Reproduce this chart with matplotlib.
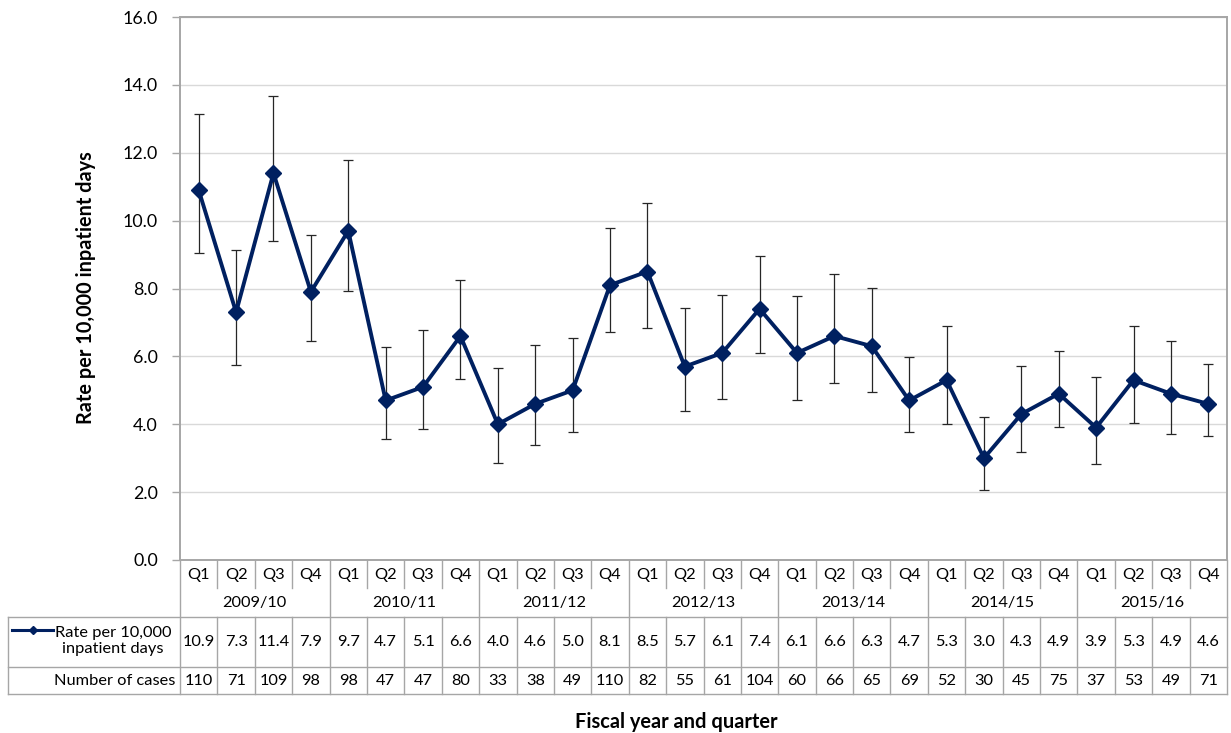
import matplotlib
matplotlib.use("Agg")
import matplotlib.pyplot as plt
from matplotlib import transforms
from matplotlib.lines import Line2D

# ---- data ----
years = ["2009/10", "2010/11", "2011/12", "2012/13", "2013/14", "2014/15", "2015/16"]
quarter_names = ["Q1", "Q2", "Q3", "Q4"]
rate = [10.9, 7.3, 11.4, 7.9, 9.7, 4.7, 5.1, 6.6, 4.0, 4.6, 5.0, 8.1,
        8.5, 5.7, 6.1, 7.4, 6.1, 6.6, 6.3, 4.7, 5.3, 3.0, 4.3, 4.9,
        3.9, 5.3, 4.9, 4.6]
ci_upper = [13.13, 9.13, 13.68, 9.57, 11.78, 6.27, 6.78, 8.26, 5.67, 6.33, 6.55, 9.79,
            10.51, 7.43, 7.81, 8.97, 7.79, 8.43, 8.02, 5.99, 6.90, 4.20, 5.72, 6.17,
            5.40, 6.90, 6.46, 5.78]
ci_lower = [9.04, 5.75, 9.41, 6.44, 7.93, 3.56, 3.85, 5.34, 2.87, 3.38, 3.76, 6.71,
            6.83, 4.40, 4.73, 6.10, 4.70, 5.22, 4.95, 3.76, 4.00, 2.07, 3.19, 3.92,
            2.84, 4.03, 3.71, 3.65]
cases = [110, 71, 109, 98, 98, 47, 47, 80, 33, 38, 49, 110,
         82, 55, 61, 104, 60, 66, 65, 69, 52, 30, 45, 75,
         37, 53, 49, 71]
yticks = [0, 2, 4, 6, 8, 10, 12, 14, 16]
series_label = "Rate per 10,000\ninpatient days"
cases_label = "Number of cases"
y_title = "Rate per 10,000 inpatient days"
x_title = "Fiscal year and quarter"

plt.rcParams['font.family'] = ['Lato', 'DejaVu Sans']

W, H = 1231, 733
NAVY = "#002060"
GRID = "#D9D9D9"
SPINE = "#A6A6A6"
TLINE = "#A6A6A6"

fig = plt.figure(figsize=(W / 100, H / 100), dpi=100)
L, R, T, B = 180, 1227, 17, 560
ax = fig.add_axes([L / W, 1 - B / H, (R - L) / W, (B - T) / H])

n = len(rate)
x = list(range(n))
yerr = [[r - lo for r, lo in zip(rate, ci_lower)], [hi - r for r, hi in zip(rate, ci_upper)]]
ax.errorbar(x, rate, yerr=yerr, fmt="none", ecolor="#262626", elinewidth=0.9,
            capsize=3.6, capthick=0.9, zorder=2)
ax.plot(x, rate, color=NAVY, lw=2.8, marker="D", ms=8.5, mec=NAVY, mfc=NAVY, zorder=3)

ax.set_xlim(-0.5, n - 0.5)
ax.set_ylim(0, 16)
ax.set_yticks(yticks)
ax.set_yticklabels([f"{v:.1f}" for v in yticks], fontsize=12.5, color="#000000")
ax.set_xticks([])
ax.tick_params(axis="y", length=6, width=1, color=SPINE, pad=10, direction="out")
ax.grid(axis="y", color=GRID, lw=1)
ax.set_axisbelow(True)
for s in ax.spines.values():
    s.set_color(SPINE)
    s.set_linewidth(1.4)

# ---- overlay for table/titles ----
tab = fig.add_axes([0, 0, 1, 1], zorder=-1)
tab.set_xlim(0, W)
tab.set_ylim(H, 0)
tab.axis("off")
tr = transforms.blended_transform_factory(ax.transData, tab.transData)

ylab = tab.text(86, 288, y_title, rotation=90, ha="center", va="center",
                fontsize=12.5, fontweight="bold")

yq_bot, yy_bot, yr_bot, yc_bot = 588, 617, 667, 694
lw_t = 1.0

def vline(xd, y0, y1):
    tab.add_line(Line2D([xd, xd], [y0, y1], transform=tr, color=TLINE, lw=lw_t))

def hline_px(x0, x1, yy):
    tab.add_line(Line2D([x0, x1], [yy, yy], color=TLINE, lw=lw_t))

for yy in (yy_bot, yr_bot, yc_bot):
    hline_px(8, R, yy)
tab.add_line(Line2D([8, 8], [yy_bot, yc_bot], color=TLINE, lw=lw_t))
for i in range(n + 1):
    xd = i - 0.5
    if i % 4 == 0:
        vline(xd, B, yc_bot)
    else:
        vline(xd, B, yq_bot)
        vline(xd, yy_bot, yc_bot)

fs = 11.5
table_texts = []
for i in range(n):
    table_texts.append(tab.text(i, (B + yq_bot) / 2 + 0.5, quarter_names[i % 4], transform=tr,
                                ha="center", va="center", fontsize=fs))
    table_texts.append(tab.text(i, (yy_bot + yr_bot) / 2 + 0.5, f"{rate[i]:.1f}", transform=tr,
                                ha="center", va="center", fontsize=fs))
    table_texts.append(tab.text(i, (yr_bot + yc_bot) / 2 + 0.5, f"{cases[i]}", transform=tr,
                                ha="center", va="center", fontsize=fs))
for k, yname in enumerate(years):
    table_texts.append(tab.text(4 * k + 1.5, (yq_bot + yy_bot) / 2 + 1, yname, transform=tr,
                                ha="center", va="center", fontsize=fs))

hdr = tab.text(113, 641, series_label, ha="center", va="center", fontsize=fs,
               linespacing=1.2)
table_texts.append(hdr)
tab.add_line(Line2D([12, 53], [630, 630], color=NAVY, lw=2.2))
tab.add_line(Line2D([32.5], [630], color=NAVY, marker="D", ms=4.5, lw=0))
ncase = tab.text(175, 681, cases_label, ha="right", va="center", fontsize=fs)
table_texts.append(ncase)

xlab = tab.text(676, 722, x_title, ha="center", va="center", fontsize=12.5, fontweight="bold")

# ---- fit font sizes to the reference text extents ----
fig.canvas.draw()
rend = fig.canvas.get_renderer()

def scale_for(t, target, use_height=False):
    bb = t.get_window_extent(rend)
    cur = bb.height if use_height else bb.width
    return target / cur

s = scale_for(ncase, 121)
for t in table_texts:
    t.set_fontsize(t.get_fontsize() * s)
xlab.set_fontsize(xlab.get_fontsize() * scale_for(xlab, 203))
ylab.set_fontsize(ylab.get_fontsize() * scale_for(ylab, 272, use_height=True))
tl = ax.get_yticklabels()[-1]
st = scale_for(tl, 35)
for t in ax.get_yticklabels():
    t.set_fontsize(t.get_fontsize() * st)

fig.savefig("out.png", dpi=100)
